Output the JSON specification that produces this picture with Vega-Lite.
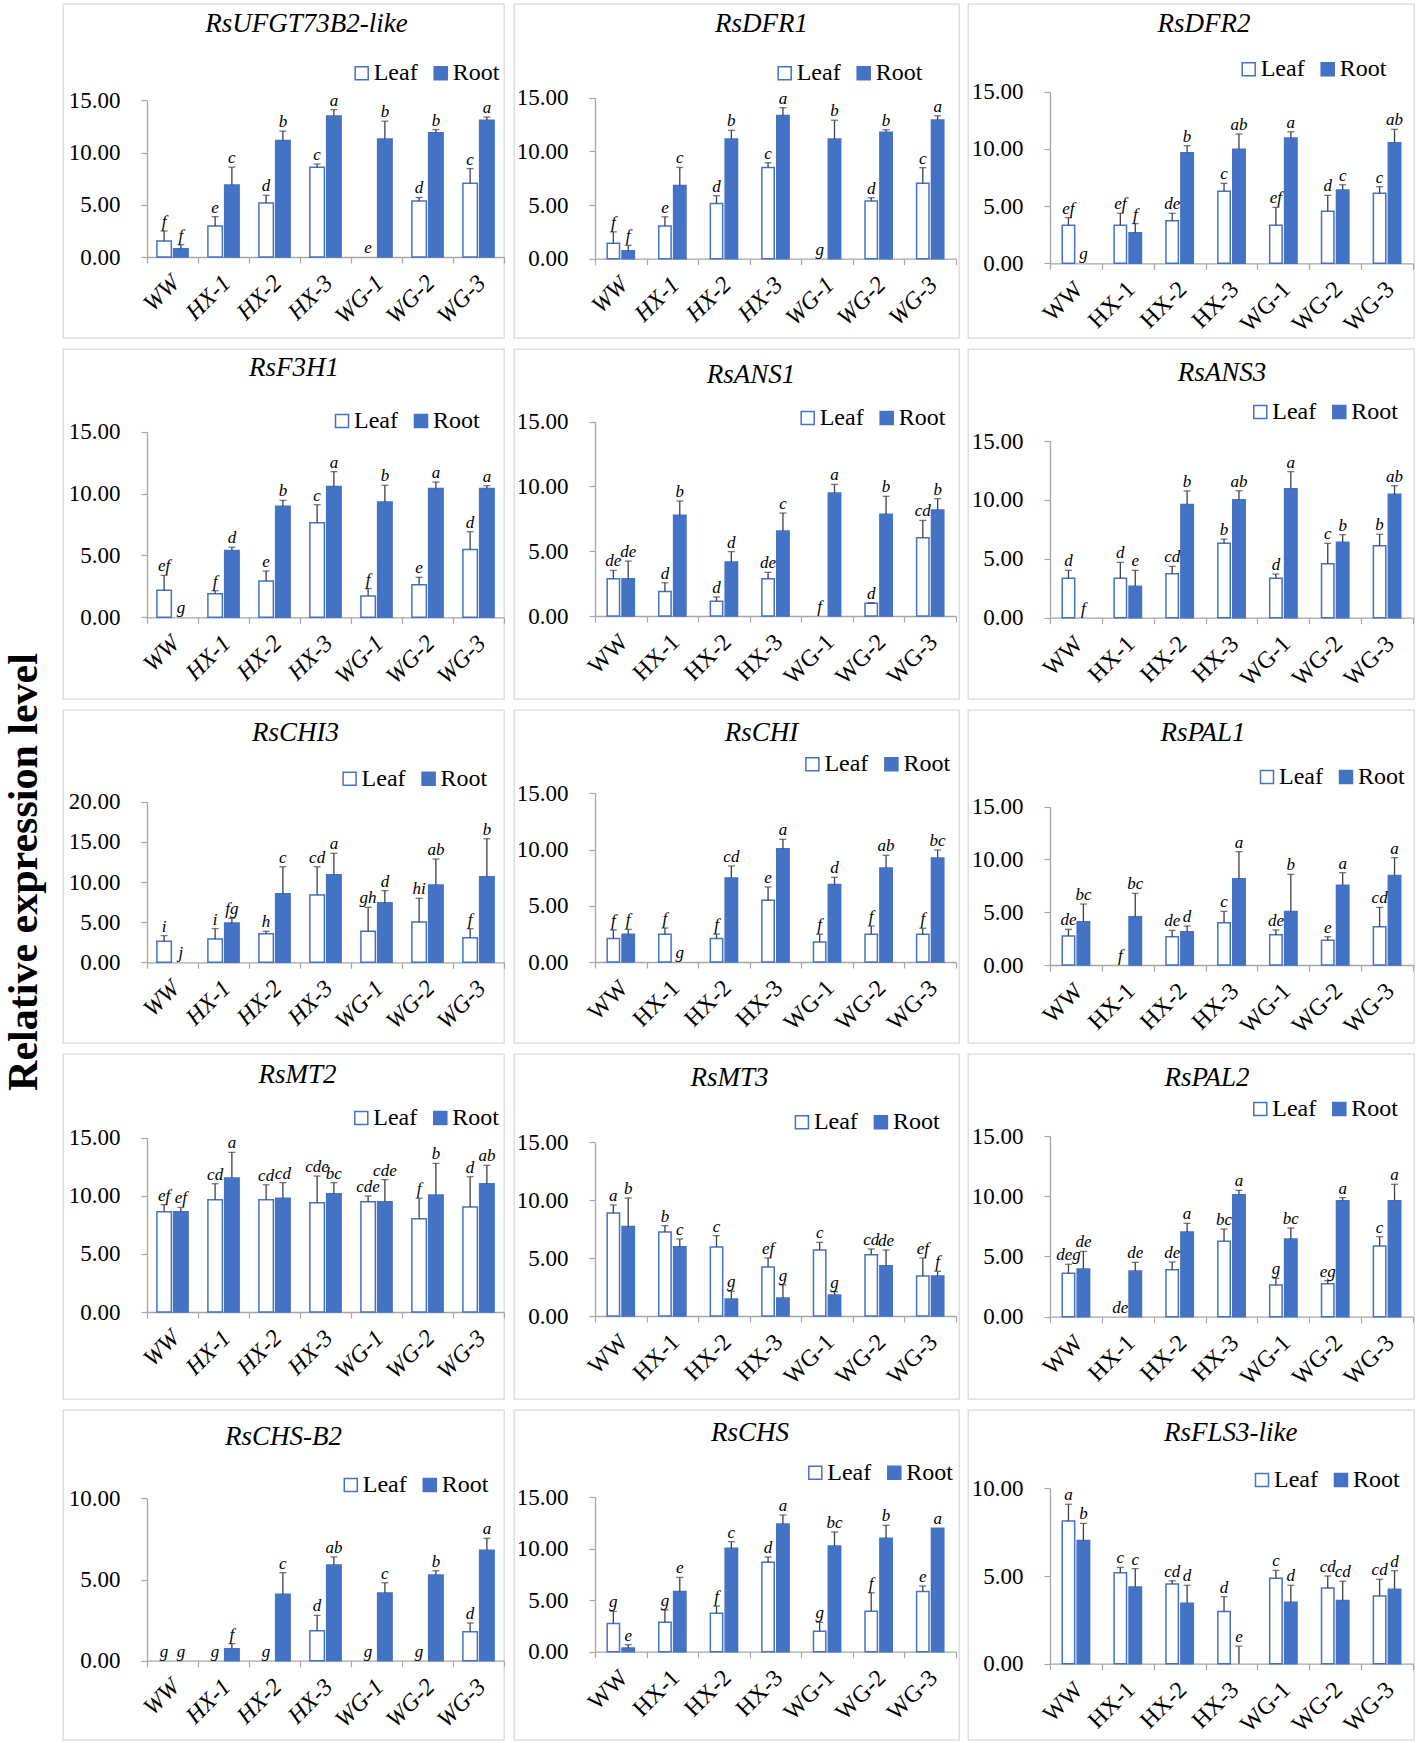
{
"$schema": "https://vega.github.io/schema/vega-lite/v6.json",
"padding": {"left": 2, "top": 3, "right": 0, "bottom": 0},
"background": "white",
"title": {"text": "Relative expression level", "orient": "left", "anchor": "middle", "frame": "bounds", "fontSize": 42, "fontWeight": "bold", "fontStyle": "normal", "font": "Liberation Serif", "baseline": "bottom", "offset": -34},
"data": {"values": [
{"g":"RsUFGT73B2-like","c":"WW","t":"Leaf","v":1.53,"h":2.49,"l":"f"},{"g":"RsUFGT73B2-like","c":"WW","t":"Root","v":0.8,"h":1.18,"l":"f"},
{"g":"RsUFGT73B2-like","c":"HX-1","t":"Leaf","v":2.97,"h":3.86,"l":"e"},{"g":"RsUFGT73B2-like","c":"HX-1","t":"Root","v":6.9,"h":8.6,"l":"c"},
{"g":"RsUFGT73B2-like","c":"HX-2","t":"Leaf","v":5.17,"h":5.9,"l":"d"},{"g":"RsUFGT73B2-like","c":"HX-2","t":"Root","v":11.15,"h":12.05,"l":"b"},
{"g":"RsUFGT73B2-like","c":"HX-3","t":"Leaf","v":8.6,"h":8.9,"l":"c"},{"g":"RsUFGT73B2-like","c":"HX-3","t":"Root","v":13.5,"h":14.1,"l":"a"},
{"g":"RsUFGT73B2-like","c":"WG-1","t":"Leaf","v":0,"h":0,"l":"e"},{"g":"RsUFGT73B2-like","c":"WG-1","t":"Root","v":11.3,"h":13.0,"l":"b"},
{"g":"RsUFGT73B2-like","c":"WG-2","t":"Leaf","v":5.36,"h":5.7,"l":"d"},{"g":"RsUFGT73B2-like","c":"WG-2","t":"Root","v":11.9,"h":12.2,"l":"b"},
{"g":"RsUFGT73B2-like","c":"WG-3","t":"Leaf","v":7.05,"h":8.46,"l":"c"},{"g":"RsUFGT73B2-like","c":"WG-3","t":"Root","v":13.1,"h":13.4,"l":"a"},

{"g":"RsDFR1","c":"WW","t":"Leaf","v":1.43,"h":2.5,"l":"f"},{"g":"RsDFR1","c":"WW","t":"Root","v":0.75,"h":1.24,"l":"f"},
{"g":"RsDFR1","c":"HX-1","t":"Leaf","v":3.04,"h":3.9,"l":"e"},{"g":"RsDFR1","c":"HX-1","t":"Root","v":6.83,"h":8.5,"l":"c"},
{"g":"RsDFR1","c":"HX-2","t":"Leaf","v":5.15,"h":5.87,"l":"d"},{"g":"RsDFR1","c":"HX-2","t":"Root","v":11.15,"h":11.96,"l":"b"},
{"g":"RsDFR1","c":"HX-3","t":"Leaf","v":8.5,"h":8.94,"l":"c"},{"g":"RsDFR1","c":"HX-3","t":"Root","v":13.35,"h":14.07,"l":"a"},
{"g":"RsDFR1","c":"WG-1","t":"Leaf","v":0,"h":0,"l":"g"},{"g":"RsDFR1","c":"WG-1","t":"Root","v":11.15,"h":12.9,"l":"b"},
{"g":"RsDFR1","c":"WG-2","t":"Leaf","v":5.37,"h":5.68,"l":"d"},{"g":"RsDFR1","c":"WG-2","t":"Root","v":11.77,"h":12.02,"l":"b"},
{"g":"RsDFR1","c":"WG-3","t":"Leaf","v":7.02,"h":8.48,"l":"c"},{"g":"RsDFR1","c":"WG-3","t":"Root","v":12.92,"h":13.32,"l":"a"},

{"g":"RsDFR2","c":"WW","t":"Leaf","v":3.32,"h":3.99,"l":"ef"},{"g":"RsDFR2","c":"WW","t":"Root","v":0,"h":0,"l":"g"},
{"g":"RsDFR2","c":"HX-1","t":"Leaf","v":3.32,"h":4.37,"l":"ef"},{"g":"RsDFR2","c":"HX-1","t":"Root","v":2.68,"h":3.47,"l":"f"},
{"g":"RsDFR2","c":"HX-2","t":"Leaf","v":3.73,"h":4.37,"l":"de"},{"g":"RsDFR2","c":"HX-2","t":"Root","v":9.67,"h":10.28,"l":"b"},
{"g":"RsDFR2","c":"HX-3","t":"Leaf","v":6.29,"h":6.99,"l":"c"},{"g":"RsDFR2","c":"HX-3","t":"Root","v":9.96,"h":11.3,"l":"ab"},
{"g":"RsDFR2","c":"WG-1","t":"Leaf","v":3.32,"h":4.89,"l":"ef"},{"g":"RsDFR2","c":"WG-1","t":"Root","v":10.95,"h":11.5,"l":"a"},
{"g":"RsDFR2","c":"WG-2","t":"Leaf","v":4.54,"h":5.94,"l":"d"},{"g":"RsDFR2","c":"WG-2","t":"Root","v":6.41,"h":6.87,"l":"c"},
{"g":"RsDFR2","c":"WG-3","t":"Leaf","v":6.12,"h":6.7,"l":"c"},{"g":"RsDFR2","c":"WG-3","t":"Root","v":10.54,"h":11.71,"l":"ab"},

{"g":"RsF3H1","c":"WW","t":"Leaf","v":2.18,"h":3.39,"l":"ef"},{"g":"RsF3H1","c":"WW","t":"Root","v":0,"h":0,"l":"g"},
{"g":"RsF3H1","c":"HX-1","t":"Leaf","v":1.91,"h":2.15,"l":"f"},{"g":"RsF3H1","c":"HX-1","t":"Root","v":5.39,"h":5.66,"l":"d"},
{"g":"RsF3H1","c":"HX-2","t":"Leaf","v":2.94,"h":3.74,"l":"e"},{"g":"RsF3H1","c":"HX-2","t":"Root","v":8.97,"h":9.45,"l":"b"},
{"g":"RsF3H1","c":"HX-3","t":"Leaf","v":7.65,"h":9.1,"l":"c"},{"g":"RsF3H1","c":"HX-3","t":"Root","v":10.58,"h":11.77,"l":"a"},
{"g":"RsF3H1","c":"WG-1","t":"Leaf","v":1.72,"h":2.32,"l":"f"},{"g":"RsF3H1","c":"WG-1","t":"Root","v":9.32,"h":10.67,"l":"b"},
{"g":"RsF3H1","c":"WG-2","t":"Leaf","v":2.64,"h":3.23,"l":"e"},{"g":"RsF3H1","c":"WG-2","t":"Root","v":10.4,"h":10.93,"l":"a"},
{"g":"RsF3H1","c":"WG-3","t":"Leaf","v":5.47,"h":6.92,"l":"d"},{"g":"RsF3H1","c":"WG-3","t":"Root","v":10.4,"h":10.64,"l":"a"},

{"g":"RsANS1","c":"WW","t":"Leaf","v":2.88,"h":3.52,"l":"de"},{"g":"RsANS1","c":"WW","t":"Root","v":2.88,"h":4.24,"l":"de"},
{"g":"RsANS1","c":"HX-1","t":"Leaf","v":1.9,"h":2.57,"l":"d"},{"g":"RsANS1","c":"HX-1","t":"Root","v":7.77,"h":8.88,"l":"b"},
{"g":"RsANS1","c":"HX-2","t":"Leaf","v":1.13,"h":1.47,"l":"d"},{"g":"RsANS1","c":"HX-2","t":"Root","v":4.17,"h":4.97,"l":"d"},
{"g":"RsANS1","c":"HX-3","t":"Leaf","v":2.88,"h":3.37,"l":"de"},{"g":"RsANS1","c":"HX-3","t":"Root","v":6.56,"h":7.95,"l":"c"},
{"g":"RsANS1","c":"WG-1","t":"Leaf","v":0,"h":0,"l":"f"},{"g":"RsANS1","c":"WG-1","t":"Root","v":9.49,"h":10.16,"l":"a"},
{"g":"RsANS1","c":"WG-2","t":"Leaf","v":0.98,"h":1.03,"l":"d"},{"g":"RsANS1","c":"WG-2","t":"Root","v":7.85,"h":9.24,"l":"b"},
{"g":"RsANS1","c":"WG-3","t":"Leaf","v":6.05,"h":7.38,"l":"cd"},{"g":"RsANS1","c":"WG-3","t":"Root","v":8.18,"h":9.06,"l":"b"},

{"g":"RsANS3","c":"WW","t":"Leaf","v":3.34,"h":4.02,"l":"d"},{"g":"RsANS3","c":"WW","t":"Root","v":0,"h":0,"l":"f"},
{"g":"RsANS3","c":"HX-1","t":"Leaf","v":3.34,"h":4.7,"l":"d"},{"g":"RsANS3","c":"HX-1","t":"Root","v":2.66,"h":4.02,"l":"e"},
{"g":"RsANS3","c":"HX-2","t":"Leaf","v":3.74,"h":4.36,"l":"cd"},{"g":"RsANS3","c":"HX-2","t":"Root","v":9.62,"h":10.76,"l":"b"},
{"g":"RsANS3","c":"HX-3","t":"Leaf","v":6.31,"h":6.68,"l":"b"},{"g":"RsANS3","c":"HX-3","t":"Root","v":10.02,"h":10.78,"l":"ab"},
{"g":"RsANS3","c":"WG-1","t":"Leaf","v":3.34,"h":3.71,"l":"d"},{"g":"RsANS3","c":"WG-1","t":"Root","v":10.95,"h":12.4,"l":"a"},
{"g":"RsANS3","c":"WG-2","t":"Leaf","v":4.59,"h":6.31,"l":"c"},{"g":"RsANS3","c":"WG-2","t":"Root","v":6.4,"h":7.05,"l":"b"},
{"g":"RsANS3","c":"WG-3","t":"Leaf","v":6.11,"h":7.08,"l":"b"},{"g":"RsANS3","c":"WG-3","t":"Root","v":10.47,"h":11.21,"l":"ab"},

{"g":"RsCHI3","c":"WW","t":"Leaf","v":2.61,"h":3.32,"l":"i"},{"g":"RsCHI3","c":"WW","t":"Root","v":0,"h":0,"l":"j"},
{"g":"RsCHI3","c":"HX-1","t":"Leaf","v":2.9,"h":4.19,"l":"i"},{"g":"RsCHI3","c":"HX-1","t":"Root","v":4.9,"h":5.48,"l":"fg"},
{"g":"RsCHI3","c":"HX-2","t":"Leaf","v":3.57,"h":3.86,"l":"h"},{"g":"RsCHI3","c":"HX-2","t":"Root","v":8.55,"h":11.9,"l":"c"},
{"g":"RsCHI3","c":"HX-3","t":"Leaf","v":8.38,"h":11.9,"l":"cd"},{"g":"RsCHI3","c":"HX-3","t":"Root","v":10.91,"h":13.57,"l":"a"},
{"g":"RsCHI3","c":"WG-1","t":"Leaf","v":3.86,"h":6.85,"l":"gh"},{"g":"RsCHI3","c":"WG-1","t":"Root","v":7.43,"h":8.92,"l":"d"},
{"g":"RsCHI3","c":"WG-2","t":"Leaf","v":5.02,"h":7.97,"l":"hi"},{"g":"RsCHI3","c":"WG-2","t":"Root","v":9.63,"h":12.86,"l":"ab"},
{"g":"RsCHI3","c":"WG-3","t":"Leaf","v":3.07,"h":4.19,"l":"f"},{"g":"RsCHI3","c":"WG-3","t":"Root","v":10.66,"h":15.39,"l":"b"},

{"g":"RsCHI","c":"WW","t":"Leaf","v":2.1,"h":2.85,"l":"f"},{"g":"RsCHI","c":"WW","t":"Root","v":2.46,"h":2.9,"l":"f"},
{"g":"RsCHI","c":"HX-1","t":"Leaf","v":2.46,"h":3.02,"l":"f"},{"g":"RsCHI","c":"HX-1","t":"Root","v":0,"h":0,"l":"g"},
{"g":"RsCHI","c":"HX-2","t":"Leaf","v":2.1,"h":2.49,"l":"f"},{"g":"RsCHI","c":"HX-2","t":"Root","v":7.47,"h":8.54,"l":"cd"},
{"g":"RsCHI","c":"HX-3","t":"Leaf","v":5.48,"h":6.67,"l":"e"},{"g":"RsCHI","c":"HX-3","t":"Root","v":10.08,"h":10.91,"l":"a"},
{"g":"RsCHI","c":"WG-1","t":"Leaf","v":1.78,"h":2.46,"l":"f"},{"g":"RsCHI","c":"WG-1","t":"Root","v":6.88,"h":7.53,"l":"d"},
{"g":"RsCHI","c":"WG-2","t":"Leaf","v":2.46,"h":3.2,"l":"f"},{"g":"RsCHI","c":"WG-2","t":"Root","v":8.36,"h":9.49,"l":"ab"},
{"g":"RsCHI","c":"WG-3","t":"Leaf","v":2.46,"h":3.0,"l":"f"},{"g":"RsCHI","c":"WG-3","t":"Root","v":9.25,"h":9.96,"l":"bc"},

{"g":"RsPAL1","c":"WW","t":"Leaf","v":2.75,"h":3.38,"l":"de"},{"g":"RsPAL1","c":"WW","t":"Root","v":4.1,"h":5.78,"l":"bc"},
{"g":"RsPAL1","c":"HX-1","t":"Leaf","v":0,"h":0,"l":"f"},{"g":"RsPAL1","c":"HX-1","t":"Root","v":4.58,"h":6.79,"l":"bc"},
{"g":"RsPAL1","c":"HX-2","t":"Leaf","v":2.68,"h":3.28,"l":"de"},{"g":"RsPAL1","c":"HX-2","t":"Root","v":3.16,"h":3.69,"l":"d"},
{"g":"RsPAL1","c":"HX-3","t":"Leaf","v":4.01,"h":5.08,"l":"c"},{"g":"RsPAL1","c":"HX-3","t":"Root","v":8.18,"h":10.74,"l":"a"},
{"g":"RsPAL1","c":"WG-1","t":"Leaf","v":2.87,"h":3.32,"l":"de"},{"g":"RsPAL1","c":"WG-1","t":"Root","v":5.08,"h":8.59,"l":"b"},
{"g":"RsPAL1","c":"WG-2","t":"Leaf","v":2.34,"h":2.68,"l":"e"},{"g":"RsPAL1","c":"WG-2","t":"Root","v":7.55,"h":8.75,"l":"a"},
{"g":"RsPAL1","c":"WG-3","t":"Leaf","v":3.63,"h":5.46,"l":"cd"},{"g":"RsPAL1","c":"WG-3","t":"Root","v":8.49,"h":10.17,"l":"a"},

{"g":"RsMT2","c":"WW","t":"Leaf","v":8.63,"h":9.23,"l":"ef"},{"g":"RsMT2","c":"WW","t":"Root","v":8.63,"h":9.0,"l":"ef"},
{"g":"RsMT2","c":"HX-1","t":"Leaf","v":9.66,"h":11.04,"l":"cd"},{"g":"RsMT2","c":"HX-1","t":"Root","v":11.53,"h":13.74,"l":"a"},
{"g":"RsMT2","c":"HX-2","t":"Leaf","v":9.66,"h":10.95,"l":"cd"},{"g":"RsMT2","c":"HX-2","t":"Root","v":9.78,"h":11.13,"l":"cd"},
{"g":"RsMT2","c":"HX-3","t":"Leaf","v":9.41,"h":11.7,"l":"cde"},{"g":"RsMT2","c":"HX-3","t":"Root","v":10.18,"h":11.13,"l":"bc"},
{"g":"RsMT2","c":"WG-1","t":"Leaf","v":9.49,"h":9.98,"l":"cde"},{"g":"RsMT2","c":"WG-1","t":"Root","v":9.49,"h":11.39,"l":"cde"},
{"g":"RsMT2","c":"WG-2","t":"Leaf","v":8.03,"h":9.78,"l":"f"},{"g":"RsMT2","c":"WG-2","t":"Root","v":10.07,"h":12.79,"l":"b"},
{"g":"RsMT2","c":"WG-3","t":"Leaf","v":9.03,"h":11.64,"l":"d"},{"g":"RsMT2","c":"WG-3","t":"Root","v":11.04,"h":12.62,"l":"ab"},

{"g":"RsMT3","c":"WW","t":"Leaf","v":8.9,"h":9.59,"l":"a"},{"g":"RsMT3","c":"WW","t":"Root","v":7.72,"h":10.19,"l":"b"},
{"g":"RsMT3","c":"HX-1","t":"Leaf","v":7.26,"h":7.8,"l":"b"},{"g":"RsMT3","c":"HX-1","t":"Root","v":5.99,"h":6.65,"l":"c"},
{"g":"RsMT3","c":"HX-2","t":"Leaf","v":5.96,"h":6.94,"l":"c"},{"g":"RsMT3","c":"HX-2","t":"Root","v":1.47,"h":2.13,"l":"g"},
{"g":"RsMT3","c":"HX-3","t":"Leaf","v":4.23,"h":5.01,"l":"ef"},{"g":"RsMT3","c":"HX-3","t":"Root","v":1.55,"h":2.68,"l":"g"},
{"g":"RsMT3","c":"WG-1","t":"Leaf","v":5.7,"h":6.36,"l":"c"},{"g":"RsMT3","c":"WG-1","t":"Root","v":1.81,"h":2.1,"l":"g"},
{"g":"RsMT3","c":"WG-2","t":"Leaf","v":5.3,"h":5.79,"l":"cd"},{"g":"RsMT3","c":"WG-2","t":"Root","v":4.35,"h":5.7,"l":"de"},
{"g":"RsMT3","c":"WG-3","t":"Leaf","v":3.46,"h":5.01,"l":"ef"},{"g":"RsMT3","c":"WG-3","t":"Root","v":3.46,"h":3.86,"l":"f"},

{"g":"RsPAL2","c":"WW","t":"Leaf","v":3.6,"h":4.35,"l":"deg"},{"g":"RsPAL2","c":"WW","t":"Root","v":3.96,"h":5.42,"l":"de"},
{"g":"RsPAL2","c":"HX-1","t":"Leaf","v":0,"h":0,"l":"de"},{"g":"RsPAL2","c":"HX-1","t":"Root","v":3.79,"h":4.51,"l":"de"},
{"g":"RsPAL2","c":"HX-2","t":"Leaf","v":3.9,"h":4.54,"l":"de"},{"g":"RsPAL2","c":"HX-2","t":"Root","v":7.03,"h":7.75,"l":"a"},
{"g":"RsPAL2","c":"HX-3","t":"Leaf","v":6.26,"h":7.28,"l":"bc"},{"g":"RsPAL2","c":"HX-3","t":"Root","v":10.13,"h":10.49,"l":"a"},
{"g":"RsPAL2","c":"WG-1","t":"Leaf","v":2.63,"h":3.18,"l":"g"},{"g":"RsPAL2","c":"WG-1","t":"Root","v":6.45,"h":7.36,"l":"bc"},
{"g":"RsPAL2","c":"WG-2","t":"Leaf","v":2.74,"h":2.99,"l":"eg"},{"g":"RsPAL2","c":"WG-2","t":"Root","v":9.63,"h":9.88,"l":"a"},
{"g":"RsPAL2","c":"WG-3","t":"Leaf","v":5.87,"h":6.64,"l":"c"},{"g":"RsPAL2","c":"WG-3","t":"Root","v":9.63,"h":10.99,"l":"a"},

{"g":"RsCHS-B2","c":"WW","t":"Leaf","v":0,"h":0,"l":"g"},{"g":"RsCHS-B2","c":"WW","t":"Root","v":0,"h":0,"l":"g"},
{"g":"RsCHS-B2","c":"HX-1","t":"Leaf","v":0,"h":0,"l":"g"},{"g":"RsCHS-B2","c":"HX-1","t":"Root","v":0.74,"h":1.05,"l":"f"},
{"g":"RsCHS-B2","c":"HX-2","t":"Leaf","v":0,"h":0,"l":"g"},{"g":"RsCHS-B2","c":"HX-2","t":"Root","v":4.09,"h":5.42,"l":"c"},
{"g":"RsCHS-B2","c":"HX-3","t":"Leaf","v":1.85,"h":2.79,"l":"d"},{"g":"RsCHS-B2","c":"HX-3","t":"Root","v":5.89,"h":6.39,"l":"ab"},
{"g":"RsCHS-B2","c":"WG-1","t":"Leaf","v":0,"h":0,"l":"g"},{"g":"RsCHS-B2","c":"WG-1","t":"Root","v":4.17,"h":4.8,"l":"c"},
{"g":"RsCHS-B2","c":"WG-2","t":"Leaf","v":0,"h":0,"l":"g"},{"g":"RsCHS-B2","c":"WG-2","t":"Root","v":5.28,"h":5.54,"l":"b"},
{"g":"RsCHS-B2","c":"WG-3","t":"Leaf","v":1.79,"h":2.32,"l":"d"},{"g":"RsCHS-B2","c":"WG-3","t":"Root","v":6.8,"h":7.54,"l":"a"},

{"g":"RsCHS","c":"WW","t":"Leaf","v":2.75,"h":3.92,"l":"g"},{"g":"RsCHS","c":"WW","t":"Root","v":0.36,"h":0.68,"l":"e"},
{"g":"RsCHS","c":"HX-1","t":"Leaf","v":2.85,"h":4.05,"l":"g"},{"g":"RsCHS","c":"HX-1","t":"Root","v":5.86,"h":7.22,"l":"e"},
{"g":"RsCHS","c":"HX-2","t":"Leaf","v":3.73,"h":4.44,"l":"f"},{"g":"RsCHS","c":"HX-2","t":"Root","v":10.04,"h":10.69,"l":"c"},
{"g":"RsCHS","c":"HX-3","t":"Leaf","v":8.68,"h":9.2,"l":"d"},{"g":"RsCHS","c":"HX-3","t":"Root","v":12.41,"h":13.28,"l":"a"},
{"g":"RsCHS","c":"WG-1","t":"Leaf","v":1.98,"h":2.85,"l":"g"},{"g":"RsCHS","c":"WG-1","t":"Root","v":10.27,"h":11.63,"l":"bc"},
{"g":"RsCHS","c":"WG-2","t":"Leaf","v":3.92,"h":5.73,"l":"f"},{"g":"RsCHS","c":"WG-2","t":"Root","v":11.01,"h":12.28,"l":"b"},
{"g":"RsCHS","c":"WG-3","t":"Leaf","v":5.86,"h":6.38,"l":"e"},{"g":"RsCHS","c":"WG-3","t":"Root","v":11.99,"h":11.99,"l":"a"},

{"g":"RsFLS3-like","c":"WW","t":"Leaf","v":8.14,"h":9.09,"l":"a"},{"g":"RsFLS3-like","c":"WW","t":"Root","v":7.02,"h":8.0,"l":"b"},
{"g":"RsFLS3-like","c":"HX-1","t":"Leaf","v":5.19,"h":5.49,"l":"c"},{"g":"RsFLS3-like","c":"HX-1","t":"Root","v":4.37,"h":5.42,"l":"c"},
{"g":"RsFLS3-like","c":"HX-2","t":"Leaf","v":4.54,"h":4.73,"l":"cd"},{"g":"RsFLS3-like","c":"HX-2","t":"Root","v":3.44,"h":4.47,"l":"d"},
{"g":"RsFLS3-like","c":"HX-3","t":"Leaf","v":2.98,"h":3.82,"l":"d"},{"g":"RsFLS3-like","c":"HX-3","t":"Root","v":0,"h":1.0,"l":"e"},
{"g":"RsFLS3-like","c":"WG-1","t":"Leaf","v":4.87,"h":5.32,"l":"c"},{"g":"RsFLS3-like","c":"WG-1","t":"Root","v":3.5,"h":4.47,"l":"d"},
{"g":"RsFLS3-like","c":"WG-2","t":"Leaf","v":4.32,"h":5.0,"l":"cd"},{"g":"RsFLS3-like","c":"WG-2","t":"Root","v":3.61,"h":4.7,"l":"cd"},
{"g":"RsFLS3-like","c":"WG-3","t":"Leaf","v":3.86,"h":4.81,"l":"cd"},{"g":"RsFLS3-like","c":"WG-3","t":"Root","v":4.24,"h":5.3,"l":"d"}
]},
"spacing": 9,
"resolve": {"scale": {"x": "independent", "y": "independent", "xOffset": "independent", "fill": "independent"}, "axis": {"x": "independent", "y": "independent"}, "legend": {"fill": "independent"}},
"vconcat": [
{"hconcat": [
 {"width": 441, "height": 334, "title": {"text": "RsUFGT73B2-like", "offset": -33.6, "dx": 23},
  "transform": [{"filter": "datum.g == 'RsUFGT73B2-like'"}],
  "encoding": {"x": {"field": "c", "type": "nominal", "sort": ["WW","HX-1","HX-2","HX-3","WG-1","WG-2","WG-3"], "scale": {"range": [84, 441], "paddingInner": 0, "paddingOuter": 0}, "axis": {"title": null, "offset": -81, "labelFontStyle": "italic", "tickBand": "extent"}},
   "xOffset": {"field": "t", "type": "nominal", "sort": ["Leaf","Root"], "scale": {"paddingInner": 0.137, "paddingOuter": 0.59}}},
  "layer": [
   {"transform": [{"filter": "datum.v > 0"}], "mark": {"type": "bar", "stroke": "#4472C4", "strokeWidth": 1.5},
    "encoding": {"y": {"field": "v", "type": "quantitative", "scale": {"domain": [0, 15], "range": [253, 96.3], "nice": false}, "axis": {"title": null, "values": [0,5,10,15], "format": ".2f", "offset": -84}},
     "fill": {"field": "t", "type": "nominal", "scale": {"domain": ["Leaf","Root"], "range": ["#FFFFFF","#4472C4"]}, "legend": {"title": null, "orient": "none", "legendX": 286.7, "legendY": 57.3}}}},
   {"transform": [{"filter": "datum.h > datum.v"}], "mark": {"type": "rule", "color": "#404040", "strokeWidth": 1.3}, "encoding": {"y": {"field": "v", "type": "quantitative"}, "y2": {"field": "h"}}},
   {"transform": [{"filter": "datum.h > datum.v"}], "mark": {"type": "tick", "orient": "horizontal", "color": "#404040", "size": 7, "thickness": 1.3}, "encoding": {"y": {"field": "h", "type": "quantitative"}}},
   {"mark": {"type": "text", "baseline": "alphabetic", "dy": -4, "fontSize": 17, "fontStyle": "italic", "font": "Liberation Serif", "color": "#000000"}, "encoding": {"y": {"field": "h", "type": "quantitative"}, "text": {"field": "l"}}}
  ]},
 {"width": 445, "height": 334, "title": {"text": "RsDFR1", "offset": -33.6, "dx": 25},
  "transform": [{"filter": "datum.g == 'RsDFR1'"}],
  "encoding": {"x": {"field": "c", "type": "nominal", "sort": ["WW","HX-1","HX-2","HX-3","WG-1","WG-2","WG-3"], "scale": {"range": [81, 442], "paddingInner": 0, "paddingOuter": 0}, "axis": {"title": null, "offset": -79.3, "labelFontStyle": "italic", "tickBand": "extent"}},
   "xOffset": {"field": "t", "type": "nominal", "sort": ["Leaf","Root"], "scale": {"paddingInner": 0.167, "paddingOuter": 0.82}}},
  "layer": [
   {"transform": [{"filter": "datum.v > 0"}], "mark": {"type": "bar", "stroke": "#4472C4", "strokeWidth": 1.5},
    "encoding": {"y": {"field": "v", "type": "quantitative", "scale": {"domain": [0, 15], "range": [254.7, 93.7], "nice": false}, "axis": {"title": null, "values": [0,5,10,15], "format": ".2f", "offset": -81}},
     "fill": {"field": "t", "type": "nominal", "scale": {"domain": ["Leaf","Root"], "range": ["#FFFFFF","#4472C4"]}, "legend": {"title": null, "orient": "none", "legendX": 258.7, "legendY": 57.3}}}},
   {"transform": [{"filter": "datum.h > datum.v"}], "mark": {"type": "rule", "color": "#404040", "strokeWidth": 1.3}, "encoding": {"y": {"field": "v", "type": "quantitative"}, "y2": {"field": "h"}}},
   {"transform": [{"filter": "datum.h > datum.v"}], "mark": {"type": "tick", "orient": "horizontal", "color": "#404040", "size": 7, "thickness": 1.3}, "encoding": {"y": {"field": "h", "type": "quantitative"}}},
   {"mark": {"type": "text", "baseline": "alphabetic", "dy": -4, "fontSize": 17, "fontStyle": "italic", "font": "Liberation Serif", "color": "#000000"}, "encoding": {"y": {"field": "h", "type": "quantitative"}, "text": {"field": "l"}}}
  ]},
 {"width": 446, "height": 334, "title": {"text": "RsDFR2", "offset": -33.6, "dx": 13},
  "transform": [{"filter": "datum.g == 'RsDFR2'"}],
  "encoding": {"x": {"field": "c", "type": "nominal", "sort": ["WW","HX-1","HX-2","HX-3","WG-1","WG-2","WG-3"], "scale": {"range": [82, 445], "paddingInner": 0, "paddingOuter": 0}, "axis": {"title": null, "offset": -74.7, "tickBand": "extent"}},
   "xOffset": {"field": "t", "type": "nominal", "sort": ["Leaf","Root"], "scale": {"paddingInner": 0.167, "paddingOuter": 0.82}}},
  "layer": [
   {"transform": [{"filter": "datum.v > 0"}], "mark": {"type": "bar", "stroke": "#4472C4", "strokeWidth": 1.5},
    "encoding": {"y": {"field": "v", "type": "quantitative", "scale": {"domain": [0, 15], "range": [259.3, 87.7], "nice": false}, "axis": {"title": null, "values": [0,5,10,15], "format": ".2f", "offset": -82}},
     "fill": {"field": "t", "type": "nominal", "scale": {"domain": ["Leaf","Root"], "range": ["#FFFFFF","#4472C4"]}, "legend": {"title": null, "orient": "none", "legendX": 268.7, "legendY": 53.3}}}},
   {"transform": [{"filter": "datum.h > datum.v"}], "mark": {"type": "rule", "color": "#404040", "strokeWidth": 1.3}, "encoding": {"y": {"field": "v", "type": "quantitative"}, "y2": {"field": "h"}}},
   {"transform": [{"filter": "datum.h > datum.v"}], "mark": {"type": "tick", "orient": "horizontal", "color": "#404040", "size": 7, "thickness": 1.3}, "encoding": {"y": {"field": "h", "type": "quantitative"}}},
   {"mark": {"type": "text", "baseline": "alphabetic", "dy": -4, "fontSize": 17, "fontStyle": "italic", "font": "Liberation Serif", "color": "#000000"}, "encoding": {"y": {"field": "h", "type": "quantitative"}, "text": {"field": "l"}}}
  ]}
], "spacing": -2, "resolve": {"scale": {"x": "independent", "y": "independent", "xOffset": "independent", "fill": "independent"}, "axis": {"x": "independent", "y": "independent"}, "legend": {"fill": "independent"}}},
{"hconcat": [
 {"width": 441, "height": 350, "title": {"text": "RsF3H1", "offset": -33.3, "dx": 10.5},
  "transform": [{"filter": "datum.g == 'RsF3H1'"}],
  "encoding": {"x": {"field": "c", "type": "nominal", "sort": ["WW","HX-1","HX-2","HX-3","WG-1","WG-2","WG-3"], "scale": {"range": [84, 441], "paddingInner": 0, "paddingOuter": 0}, "axis": {"title": null, "offset": -81.7, "labelFontStyle": "italic", "tickBand": "extent"}},
   "xOffset": {"field": "t", "type": "nominal", "sort": ["Leaf","Root"], "scale": {"paddingInner": 0.137, "paddingOuter": 0.59}}},
  "layer": [
   {"transform": [{"filter": "datum.v > 0"}], "mark": {"type": "bar", "stroke": "#4472C4", "strokeWidth": 1.5},
    "encoding": {"y": {"field": "v", "type": "quantitative", "scale": {"domain": [0, 15], "range": [268.3, 82.7], "nice": false}, "axis": {"title": null, "values": [0,5,10,15], "format": ".2f", "offset": -84}},
     "fill": {"field": "t", "type": "nominal", "scale": {"domain": ["Leaf","Root"], "range": ["#FFFFFF","#4472C4"]}, "legend": {"title": null, "orient": "none", "legendX": 267, "legendY": 60}}}},
   {"transform": [{"filter": "datum.h > datum.v"}], "mark": {"type": "rule", "color": "#404040", "strokeWidth": 1.3}, "encoding": {"y": {"field": "v", "type": "quantitative"}, "y2": {"field": "h"}}},
   {"transform": [{"filter": "datum.h > datum.v"}], "mark": {"type": "tick", "orient": "horizontal", "color": "#404040", "size": 7, "thickness": 1.3}, "encoding": {"y": {"field": "h", "type": "quantitative"}}},
   {"mark": {"type": "text", "baseline": "alphabetic", "dy": -4, "fontSize": 17, "fontStyle": "italic", "font": "Liberation Serif", "color": "#000000"}, "encoding": {"y": {"field": "h", "type": "quantitative"}, "text": {"field": "l"}}}
  ]},
 {"width": 445, "height": 350, "title": {"text": "RsANS1", "offset": -39.6, "dx": 14.5},
  "transform": [{"filter": "datum.g == 'RsANS1'"}],
  "encoding": {"x": {"field": "c", "type": "nominal", "sort": ["WW","HX-1","HX-2","HX-3","WG-1","WG-2","WG-3"], "scale": {"range": [81, 442], "paddingInner": 0, "paddingOuter": 0}, "axis": {"title": null, "offset": -83, "tickBand": "extent"}},
   "xOffset": {"field": "t", "type": "nominal", "sort": ["Leaf","Root"], "scale": {"paddingInner": 0.167, "paddingOuter": 0.82}}},
  "layer": [
   {"transform": [{"filter": "datum.v > 0"}], "mark": {"type": "bar", "stroke": "#4472C4", "strokeWidth": 1.5},
    "encoding": {"y": {"field": "v", "type": "quantitative", "scale": {"domain": [0, 15], "range": [267, 72.7], "nice": false}, "axis": {"title": null, "values": [0,5,10,15], "format": ".2f", "offset": -81}},
     "fill": {"field": "t", "type": "nominal", "scale": {"domain": ["Leaf","Root"], "range": ["#FFFFFF","#4472C4"]}, "legend": {"title": null, "orient": "none", "legendX": 281.7, "legendY": 57}}}},
   {"transform": [{"filter": "datum.h > datum.v"}], "mark": {"type": "rule", "color": "#404040", "strokeWidth": 1.3}, "encoding": {"y": {"field": "v", "type": "quantitative"}, "y2": {"field": "h"}}},
   {"transform": [{"filter": "datum.h > datum.v"}], "mark": {"type": "tick", "orient": "horizontal", "color": "#404040", "size": 7, "thickness": 1.3}, "encoding": {"y": {"field": "h", "type": "quantitative"}}},
   {"mark": {"type": "text", "baseline": "alphabetic", "dy": -4, "fontSize": 17, "fontStyle": "italic", "font": "Liberation Serif", "color": "#000000"}, "encoding": {"y": {"field": "h", "type": "quantitative"}, "text": {"field": "l"}}}
  ]},
 {"width": 446, "height": 350, "title": {"text": "RsANS3", "offset": -38.3, "dx": 31},
  "transform": [{"filter": "datum.g == 'RsANS3'"}],
  "encoding": {"x": {"field": "c", "type": "nominal", "sort": ["WW","HX-1","HX-2","HX-3","WG-1","WG-2","WG-3"], "scale": {"range": [82, 445], "paddingInner": 0, "paddingOuter": 0}, "axis": {"title": null, "offset": -81.3, "tickBand": "extent"}},
   "xOffset": {"field": "t", "type": "nominal", "sort": ["Leaf","Root"], "scale": {"paddingInner": 0.167, "paddingOuter": 0.82}}},
  "layer": [
   {"transform": [{"filter": "datum.v > 0"}], "mark": {"type": "bar", "stroke": "#4472C4", "strokeWidth": 1.5},
    "encoding": {"y": {"field": "v", "type": "quantitative", "scale": {"domain": [0, 15], "range": [268.7, 92], "nice": false}, "axis": {"title": null, "values": [0,5,10,15], "format": ".2f", "offset": -82}},
     "fill": {"field": "t", "type": "nominal", "scale": {"domain": ["Leaf","Root"], "range": ["#FFFFFF","#4472C4"]}, "legend": {"title": null, "orient": "none", "legendX": 280.3, "legendY": 51}}}},
   {"transform": [{"filter": "datum.h > datum.v"}], "mark": {"type": "rule", "color": "#404040", "strokeWidth": 1.3}, "encoding": {"y": {"field": "v", "type": "quantitative"}, "y2": {"field": "h"}}},
   {"transform": [{"filter": "datum.h > datum.v"}], "mark": {"type": "tick", "orient": "horizontal", "color": "#404040", "size": 7, "thickness": 1.3}, "encoding": {"y": {"field": "h", "type": "quantitative"}}},
   {"mark": {"type": "text", "baseline": "alphabetic", "dy": -4, "fontSize": 17, "fontStyle": "italic", "font": "Liberation Serif", "color": "#000000"}, "encoding": {"y": {"field": "h", "type": "quantitative"}, "text": {"field": "l"}}}
  ]}
], "spacing": -2, "resolve": {"scale": {"x": "independent", "y": "independent", "xOffset": "independent", "fill": "independent"}, "axis": {"x": "independent", "y": "independent"}, "legend": {"fill": "independent"}}},
{"hconcat": [
 {"width": 441, "height": 333, "title": {"text": "RsCHI3", "offset": -36.6, "dx": 12},
  "transform": [{"filter": "datum.g == 'RsCHI3'"}],
  "encoding": {"x": {"field": "c", "type": "nominal", "sort": ["WW","HX-1","HX-2","HX-3","WG-1","WG-2","WG-3"], "scale": {"range": [84, 441], "paddingInner": 0, "paddingOuter": 0}, "axis": {"title": null, "offset": -80.7, "labelFontStyle": "italic", "tickBand": "extent"}},
   "xOffset": {"field": "t", "type": "nominal", "sort": ["Leaf","Root"], "scale": {"paddingInner": 0.137, "paddingOuter": 0.59}}},
  "layer": [
   {"transform": [{"filter": "datum.v > 0"}], "mark": {"type": "bar", "stroke": "#4472C4", "strokeWidth": 1.5},
    "encoding": {"y": {"field": "v", "type": "quantitative", "scale": {"domain": [0, 20], "range": [252.3, 91.7], "nice": false}, "axis": {"title": null, "values": [0,5,10,15,20], "format": ".2f", "offset": -84}},
     "fill": {"field": "t", "type": "nominal", "scale": {"domain": ["Leaf","Root"], "range": ["#FFFFFF","#4472C4"]}, "legend": {"title": null, "orient": "none", "legendX": 274.6, "legendY": 56.7}}}},
   {"transform": [{"filter": "datum.h > datum.v"}], "mark": {"type": "rule", "color": "#404040", "strokeWidth": 1.3}, "encoding": {"y": {"field": "v", "type": "quantitative"}, "y2": {"field": "h"}}},
   {"transform": [{"filter": "datum.h > datum.v"}], "mark": {"type": "tick", "orient": "horizontal", "color": "#404040", "size": 7, "thickness": 1.3}, "encoding": {"y": {"field": "h", "type": "quantitative"}}},
   {"mark": {"type": "text", "baseline": "alphabetic", "dy": -4, "fontSize": 17, "fontStyle": "italic", "font": "Liberation Serif", "color": "#000000"}, "encoding": {"y": {"field": "h", "type": "quantitative"}, "text": {"field": "l"}}}
  ]},
 {"width": 445, "height": 333, "title": {"text": "RsCHI", "offset": -36.6, "dx": 25},
  "transform": [{"filter": "datum.g == 'RsCHI'"}],
  "encoding": {"x": {"field": "c", "type": "nominal", "sort": ["WW","HX-1","HX-2","HX-3","WG-1","WG-2","WG-3"], "scale": {"range": [81, 442], "paddingInner": 0, "paddingOuter": 0}, "axis": {"title": null, "offset": -81, "tickBand": "extent"}},
   "xOffset": {"field": "t", "type": "nominal", "sort": ["Leaf","Root"], "scale": {"paddingInner": 0.167, "paddingOuter": 0.82}}},
  "layer": [
   {"transform": [{"filter": "datum.v > 0"}], "mark": {"type": "bar", "stroke": "#4472C4", "strokeWidth": 1.5},
    "encoding": {"y": {"field": "v", "type": "quantitative", "scale": {"domain": [0, 15], "range": [252, 83.3], "nice": false}, "axis": {"title": null, "values": [0,5,10,15], "format": ".2f", "offset": -81}},
     "fill": {"field": "t", "type": "nominal", "scale": {"domain": ["Leaf","Root"], "range": ["#FFFFFF","#4472C4"]}, "legend": {"title": null, "orient": "none", "legendX": 286.4, "legendY": 42.3}}}},
   {"transform": [{"filter": "datum.h > datum.v"}], "mark": {"type": "rule", "color": "#404040", "strokeWidth": 1.3}, "encoding": {"y": {"field": "v", "type": "quantitative"}, "y2": {"field": "h"}}},
   {"transform": [{"filter": "datum.h > datum.v"}], "mark": {"type": "tick", "orient": "horizontal", "color": "#404040", "size": 7, "thickness": 1.3}, "encoding": {"y": {"field": "h", "type": "quantitative"}}},
   {"mark": {"type": "text", "baseline": "alphabetic", "dy": -4, "fontSize": 17, "fontStyle": "italic", "font": "Liberation Serif", "color": "#000000"}, "encoding": {"y": {"field": "h", "type": "quantitative"}, "text": {"field": "l"}}}
  ]},
 {"width": 446, "height": 333, "title": {"text": "RsPAL1", "offset": -36.6, "dx": 12},
  "transform": [{"filter": "datum.g == 'RsPAL1'"}],
  "encoding": {"x": {"field": "c", "type": "nominal", "sort": ["WW","HX-1","HX-2","HX-3","WG-1","WG-2","WG-3"], "scale": {"range": [82, 445], "paddingInner": 0, "paddingOuter": 0}, "axis": {"title": null, "offset": -78, "tickBand": "extent"}},
   "xOffset": {"field": "t", "type": "nominal", "sort": ["Leaf","Root"], "scale": {"paddingInner": 0.167, "paddingOuter": 0.82}}},
  "layer": [
   {"transform": [{"filter": "datum.v > 0"}], "mark": {"type": "bar", "stroke": "#4472C4", "strokeWidth": 1.5},
    "encoding": {"y": {"field": "v", "type": "quantitative", "scale": {"domain": [0, 15], "range": [255, 96.7], "nice": false}, "axis": {"title": null, "values": [0,5,10,15], "format": ".2f", "offset": -82}},
     "fill": {"field": "t", "type": "nominal", "scale": {"domain": ["Leaf","Root"], "range": ["#FFFFFF","#4472C4"]}, "legend": {"title": null, "orient": "none", "legendX": 287, "legendY": 55}}}},
   {"transform": [{"filter": "datum.h > datum.v"}], "mark": {"type": "rule", "color": "#404040", "strokeWidth": 1.3}, "encoding": {"y": {"field": "v", "type": "quantitative"}, "y2": {"field": "h"}}},
   {"transform": [{"filter": "datum.h > datum.v"}], "mark": {"type": "tick", "orient": "horizontal", "color": "#404040", "size": 7, "thickness": 1.3}, "encoding": {"y": {"field": "h", "type": "quantitative"}}},
   {"mark": {"type": "text", "baseline": "alphabetic", "dy": -4, "fontSize": 17, "fontStyle": "italic", "font": "Liberation Serif", "color": "#000000"}, "encoding": {"y": {"field": "h", "type": "quantitative"}, "text": {"field": "l"}}}
  ]}
], "spacing": -2, "resolve": {"scale": {"x": "independent", "y": "independent", "xOffset": "independent", "fill": "independent"}, "axis": {"x": "independent", "y": "independent"}, "legend": {"fill": "independent"}}},
{"hconcat": [
 {"width": 441, "height": 345, "title": {"text": "RsMT2", "offset": -34.6, "dx": 14},
  "transform": [{"filter": "datum.g == 'RsMT2'"}],
  "encoding": {"x": {"field": "c", "type": "nominal", "sort": ["WW","HX-1","HX-2","HX-3","WG-1","WG-2","WG-3"], "scale": {"range": [84, 441], "paddingInner": 0, "paddingOuter": 0}, "axis": {"title": null, "offset": -87, "labelFontStyle": "italic", "tickBand": "extent"}},
   "xOffset": {"field": "t", "type": "nominal", "sort": ["Leaf","Root"], "scale": {"paddingInner": 0.137, "paddingOuter": 0.59}}},
  "layer": [
   {"transform": [{"filter": "datum.v > 0"}], "mark": {"type": "bar", "stroke": "#4472C4", "strokeWidth": 1.5},
    "encoding": {"y": {"field": "v", "type": "quantitative", "scale": {"domain": [0, 15], "range": [258, 83.7], "nice": false}, "axis": {"title": null, "values": [0,5,10,15], "format": ".2f", "offset": -84}},
     "fill": {"field": "t", "type": "nominal", "scale": {"domain": ["Leaf","Root"], "range": ["#FFFFFF","#4472C4"]}, "legend": {"title": null, "orient": "none", "legendX": 286.3, "legendY": 52}}}},
   {"transform": [{"filter": "datum.h > datum.v"}], "mark": {"type": "rule", "color": "#404040", "strokeWidth": 1.3}, "encoding": {"y": {"field": "v", "type": "quantitative"}, "y2": {"field": "h"}}},
   {"transform": [{"filter": "datum.h > datum.v"}], "mark": {"type": "tick", "orient": "horizontal", "color": "#404040", "size": 7, "thickness": 1.3}, "encoding": {"y": {"field": "h", "type": "quantitative"}}},
   {"mark": {"type": "text", "baseline": "alphabetic", "dy": -4, "fontSize": 17, "fontStyle": "italic", "font": "Liberation Serif", "color": "#000000"}, "encoding": {"y": {"field": "h", "type": "quantitative"}, "text": {"field": "l"}}}
  ]},
 {"width": 445, "height": 345, "title": {"text": "RsMT3", "offset": -37.6, "dx": -7},
  "transform": [{"filter": "datum.g == 'RsMT3'"}],
  "encoding": {"x": {"field": "c", "type": "nominal", "sort": ["WW","HX-1","HX-2","HX-3","WG-1","WG-2","WG-3"], "scale": {"range": [81, 442], "paddingInner": 0, "paddingOuter": 0}, "axis": {"title": null, "offset": -83, "tickBand": "extent"}},
   "xOffset": {"field": "t", "type": "nominal", "sort": ["Leaf","Root"], "scale": {"paddingInner": 0.167, "paddingOuter": 0.82}}},
  "layer": [
   {"transform": [{"filter": "datum.v > 0"}], "mark": {"type": "bar", "stroke": "#4472C4", "strokeWidth": 1.5},
    "encoding": {"y": {"field": "v", "type": "quantitative", "scale": {"domain": [0, 15], "range": [262, 88.3], "nice": false}, "axis": {"title": null, "values": [0,5,10,15], "format": ".2f", "offset": -81}},
     "fill": {"field": "t", "type": "nominal", "scale": {"domain": ["Leaf","Root"], "range": ["#FFFFFF","#4472C4"]}, "legend": {"title": null, "orient": "none", "legendX": 275.9, "legendY": 56.3}}}},
   {"transform": [{"filter": "datum.h > datum.v"}], "mark": {"type": "rule", "color": "#404040", "strokeWidth": 1.3}, "encoding": {"y": {"field": "v", "type": "quantitative"}, "y2": {"field": "h"}}},
   {"transform": [{"filter": "datum.h > datum.v"}], "mark": {"type": "tick", "orient": "horizontal", "color": "#404040", "size": 7, "thickness": 1.3}, "encoding": {"y": {"field": "h", "type": "quantitative"}}},
   {"mark": {"type": "text", "baseline": "alphabetic", "dy": -4, "fontSize": 17, "fontStyle": "italic", "font": "Liberation Serif", "color": "#000000"}, "encoding": {"y": {"field": "h", "type": "quantitative"}, "text": {"field": "l"}}}
  ]},
 {"width": 446, "height": 345, "title": {"text": "RsPAL2", "offset": -37.6, "dx": 16},
  "transform": [{"filter": "datum.g == 'RsPAL2'"}],
  "encoding": {"x": {"field": "c", "type": "nominal", "sort": ["WW","HX-1","HX-2","HX-3","WG-1","WG-2","WG-3"], "scale": {"range": [82, 445], "paddingInner": 0, "paddingOuter": 0}, "axis": {"title": null, "offset": -82.3, "tickBand": "extent"}},
   "xOffset": {"field": "t", "type": "nominal", "sort": ["Leaf","Root"], "scale": {"paddingInner": 0.167, "paddingOuter": 0.82}}},
  "layer": [
   {"transform": [{"filter": "datum.v > 0"}], "mark": {"type": "bar", "stroke": "#4472C4", "strokeWidth": 1.5},
    "encoding": {"y": {"field": "v", "type": "quantitative", "scale": {"domain": [0, 15], "range": [262.7, 82], "nice": false}, "axis": {"title": null, "values": [0,5,10,15], "format": ".2f", "offset": -82}},
     "fill": {"field": "t", "type": "nominal", "scale": {"domain": ["Leaf","Root"], "range": ["#FFFFFF","#4472C4"]}, "legend": {"title": null, "orient": "none", "legendX": 280.3, "legendY": 43}}}},
   {"transform": [{"filter": "datum.h > datum.v"}], "mark": {"type": "rule", "color": "#404040", "strokeWidth": 1.3}, "encoding": {"y": {"field": "v", "type": "quantitative"}, "y2": {"field": "h"}}},
   {"transform": [{"filter": "datum.h > datum.v"}], "mark": {"type": "tick", "orient": "horizontal", "color": "#404040", "size": 7, "thickness": 1.3}, "encoding": {"y": {"field": "h", "type": "quantitative"}}},
   {"mark": {"type": "text", "baseline": "alphabetic", "dy": -4, "fontSize": 17, "fontStyle": "italic", "font": "Liberation Serif", "color": "#000000"}, "encoding": {"y": {"field": "h", "type": "quantitative"}, "text": {"field": "l"}}}
  ]}
], "spacing": -2, "resolve": {"scale": {"x": "independent", "y": "independent", "xOffset": "independent", "fill": "independent"}, "axis": {"x": "independent", "y": "independent"}, "legend": {"fill": "independent"}}},
{"hconcat": [
 {"width": 441, "height": 330, "title": {"text": "RsCHS-B2", "offset": -40.6, "dx": 0},
  "transform": [{"filter": "datum.g == 'RsCHS-B2'"}],
  "encoding": {"x": {"field": "c", "type": "nominal", "sort": ["WW","HX-1","HX-2","HX-3","WG-1","WG-2","WG-3"], "scale": {"range": [84, 441], "paddingInner": 0, "paddingOuter": 0}, "axis": {"title": null, "offset": -79.3, "labelFontStyle": "italic", "tickBand": "extent"}},
   "xOffset": {"field": "t", "type": "nominal", "sort": ["Leaf","Root"], "scale": {"paddingInner": 0.137, "paddingOuter": 0.59}}},
  "layer": [
   {"transform": [{"filter": "datum.v > 0"}], "mark": {"type": "bar", "stroke": "#4472C4", "strokeWidth": 1.5},
    "encoding": {"y": {"field": "v", "type": "quantitative", "scale": {"domain": [0, 10], "range": [250.7, 88.3], "nice": false}, "axis": {"title": null, "values": [0,5,10], "format": ".2f", "offset": -84}},
     "fill": {"field": "t", "type": "nominal", "scale": {"domain": ["Leaf","Root"], "range": ["#FFFFFF","#4472C4"]}, "legend": {"title": null, "orient": "none", "legendX": 275.8, "legendY": 63}}}},
   {"transform": [{"filter": "datum.h > datum.v"}], "mark": {"type": "rule", "color": "#404040", "strokeWidth": 1.3}, "encoding": {"y": {"field": "v", "type": "quantitative"}, "y2": {"field": "h"}}},
   {"transform": [{"filter": "datum.h > datum.v"}], "mark": {"type": "tick", "orient": "horizontal", "color": "#404040", "size": 7, "thickness": 1.3}, "encoding": {"y": {"field": "h", "type": "quantitative"}}},
   {"mark": {"type": "text", "baseline": "alphabetic", "dy": -4, "fontSize": 17, "fontStyle": "italic", "font": "Liberation Serif", "color": "#000000"}, "encoding": {"y": {"field": "h", "type": "quantitative"}, "text": {"field": "l"}}}
  ]},
 {"width": 445, "height": 330, "title": {"text": "RsCHS", "offset": -37.3, "dx": 13.5},
  "transform": [{"filter": "datum.g == 'RsCHS'"}],
  "encoding": {"x": {"field": "c", "type": "nominal", "sort": ["WW","HX-1","HX-2","HX-3","WG-1","WG-2","WG-3"], "scale": {"range": [81, 442], "paddingInner": 0, "paddingOuter": 0}, "axis": {"title": null, "offset": -88.3, "tickBand": "extent"}},
   "xOffset": {"field": "t", "type": "nominal", "sort": ["Leaf","Root"], "scale": {"paddingInner": 0.167, "paddingOuter": 0.82}}},
  "layer": [
   {"transform": [{"filter": "datum.v > 0"}], "mark": {"type": "bar", "stroke": "#4472C4", "strokeWidth": 1.5},
    "encoding": {"y": {"field": "v", "type": "quantitative", "scale": {"domain": [0, 15], "range": [241.7, 87.3], "nice": false}, "axis": {"title": null, "values": [0,5,10,15], "format": ".2f", "offset": -81}},
     "fill": {"field": "t", "type": "nominal", "scale": {"domain": ["Leaf","Root"], "range": ["#FFFFFF","#4472C4"]}, "legend": {"title": null, "orient": "none", "legendX": 289.3, "legendY": 50.7}}}},
   {"transform": [{"filter": "datum.h > datum.v"}], "mark": {"type": "rule", "color": "#404040", "strokeWidth": 1.3}, "encoding": {"y": {"field": "v", "type": "quantitative"}, "y2": {"field": "h"}}},
   {"transform": [{"filter": "datum.h > datum.v"}], "mark": {"type": "tick", "orient": "horizontal", "color": "#404040", "size": 7, "thickness": 1.3}, "encoding": {"y": {"field": "h", "type": "quantitative"}}},
   {"mark": {"type": "text", "baseline": "alphabetic", "dy": -4, "fontSize": 17, "fontStyle": "italic", "font": "Liberation Serif", "color": "#000000"}, "encoding": {"y": {"field": "h", "type": "quantitative"}, "text": {"field": "l"}}}
  ]},
 {"width": 446, "height": 330, "title": {"text": "RsFLS3-like", "offset": -37.3, "dx": 39.7},
  "transform": [{"filter": "datum.g == 'RsFLS3-like'"}],
  "encoding": {"x": {"field": "c", "type": "nominal", "sort": ["WW","HX-1","HX-2","HX-3","WG-1","WG-2","WG-3"], "scale": {"range": [82, 445], "paddingInner": 0, "paddingOuter": 0}, "axis": {"title": null, "offset": -76.3, "tickBand": "extent"}},
   "xOffset": {"field": "t", "type": "nominal", "sort": ["Leaf","Root"], "scale": {"paddingInner": 0.167, "paddingOuter": 0.82}}},
  "layer": [
   {"transform": [{"filter": "datum.v > 0"}], "mark": {"type": "bar", "stroke": "#4472C4", "strokeWidth": 1.5},
    "encoding": {"y": {"field": "v", "type": "quantitative", "scale": {"domain": [0, 10], "range": [253.7, 78.3], "nice": false}, "axis": {"title": null, "values": [0,5,10], "format": ".2f", "offset": -82}},
     "fill": {"field": "t", "type": "nominal", "scale": {"domain": ["Leaf","Root"], "range": ["#FFFFFF","#4472C4"]}, "legend": {"title": null, "orient": "none", "legendX": 282, "legendY": 58}}}},
   {"transform": [{"filter": "datum.h > datum.v"}], "mark": {"type": "rule", "color": "#404040", "strokeWidth": 1.3}, "encoding": {"y": {"field": "v", "type": "quantitative"}, "y2": {"field": "h"}}},
   {"transform": [{"filter": "datum.h > datum.v"}], "mark": {"type": "tick", "orient": "horizontal", "color": "#404040", "size": 7, "thickness": 1.3}, "encoding": {"y": {"field": "h", "type": "quantitative"}}},
   {"mark": {"type": "text", "baseline": "alphabetic", "dy": -4, "fontSize": 17, "fontStyle": "italic", "font": "Liberation Serif", "color": "#000000"}, "encoding": {"y": {"field": "h", "type": "quantitative"}, "text": {"field": "l"}}}
  ]}
], "spacing": -2, "resolve": {"scale": {"x": "independent", "y": "independent", "xOffset": "independent", "fill": "independent"}, "axis": {"x": "independent", "y": "independent"}, "legend": {"fill": "independent"}}}
],
"config": {
 "view": {"stroke": "#D9D9D9", "strokeWidth": 1.3},
 "font": "Liberation Serif",
 "axis": {"labelFont": "Liberation Serif", "labelColor": "#000000", "domainColor": "#A6A6A6", "tickColor": "#A6A6A6", "grid": false, "tickSize": 6, "domainWidth": 1.3, "tickWidth": 1.2},
 "axisX": {"labelFontSize": 24, "labelAngle": -45, "labelAlign": "right", "labelBaseline": "middle", "labelPadding": 16, "labelOffset": 3},
 "axisY": {"labelFontSize": 23, "labelPadding": 21},
 "legend": {"orient": "none", "direction": "horizontal", "symbolType": "square", "symbolSize": 169, "symbolStrokeColor": "#4472C4", "symbolStrokeWidth": 1.5, "labelFont": "Liberation Serif", "labelFontSize": 24, "labelColor": "#000000", "labelOffset": 0, "columnPadding": 11, "padding": 0},
 "title": {"font": "Liberation Serif", "fontSize": 27, "fontStyle": "italic", "fontWeight": "normal", "color": "#000000", "frame": "group", "anchor": "middle", "baseline": "bottom"}
}
}
